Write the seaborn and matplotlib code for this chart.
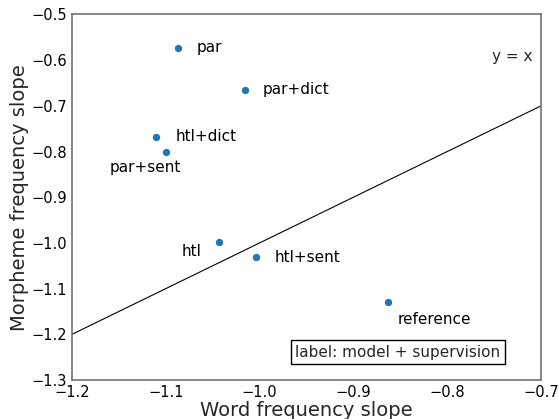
import matplotlib
matplotlib.use("Agg")
from matplotlib import pyplot as plt
import pandas as pd
import seaborn as sns

# data
labels = ["par", "par+dict", "htl+dict", "par+sent", "htl", "htl+sent", "reference"]
word_slope = [-1.087, -1.016, -1.110, -1.100, -1.043, -1.004, -0.863]
morph_slope = [-0.573, -0.665, -0.768, -0.800, -0.999, -1.031, -1.129]

df = pd.DataFrame({"word": word_slope, "morph": morph_slope, "label": labels})

sns.set_style("white")
plt.rcParams["font.family"] = ["DejaVu Sans"]

fig = plt.figure(figsize=(5.59, 4.19), dpi=100)
ax = fig.add_axes([0.1288, 0.0931, 0.8390, 0.8723])

sns.scatterplot(data=df, x="word", y="morph", ax=ax, s=28, linewidth=0, color="#1f77b4")

# text offsets in pixels (dx, dy, ha)
offsets = {
    "par": (19, 0, "left"),
    "par+dict": (18, 0, "left"),
    "htl+dict": (19, 0, "left"),
    "par+sent": (15, -16, "right"),
    "htl": (-18, -9, "right"),
    "htl+sent": (19, 0, "left"),
    "reference": (10, -18, "left"),
}
for x, y, lab in zip(word_slope, morph_slope, labels):
    dx, dy, ha = offsets[lab]
    ax.annotate(lab, (x, y), xytext=(dx, dy), textcoords="offset pixels",
                ha=ha, va="center", fontsize=11, color="black")

ax.axline((0, 0), slope=1, color="black", lw=0.8)
ax.text(-0.709, -0.591, "y = x", ha="right", va="center", fontsize=11)
ax.text(-0.8525, -1.239, "label: model + supervision", ha="center", va="center",
        fontsize=11, bbox=dict(boxstyle="square,pad=0.3", facecolor="white", edgecolor="black"))

ax.set_xlim(-1.2, -0.7)
ax.set_ylim(-1.3, -0.5)
ax.set_xticks([-1.2, -1.1, -1.0, -0.9, -0.8, -0.7])
ax.set_yticks([-1.3, -1.2, -1.1, -1.0, -0.9, -0.8, -0.7, -0.6, -0.5])
ax.tick_params(labelsize=10.5, colors="black", length=0, pad=3.5)
ax.set_xlabel("Word frequency slope", fontsize=14, labelpad=1)
ax.set_ylabel("Morpheme frequency slope", fontsize=14, labelpad=2)
for sp in ax.spines.values():
    sp.set_color("0.45")
    sp.set_linewidth(1.2)

plt.savefig("out.png", dpi=100)
